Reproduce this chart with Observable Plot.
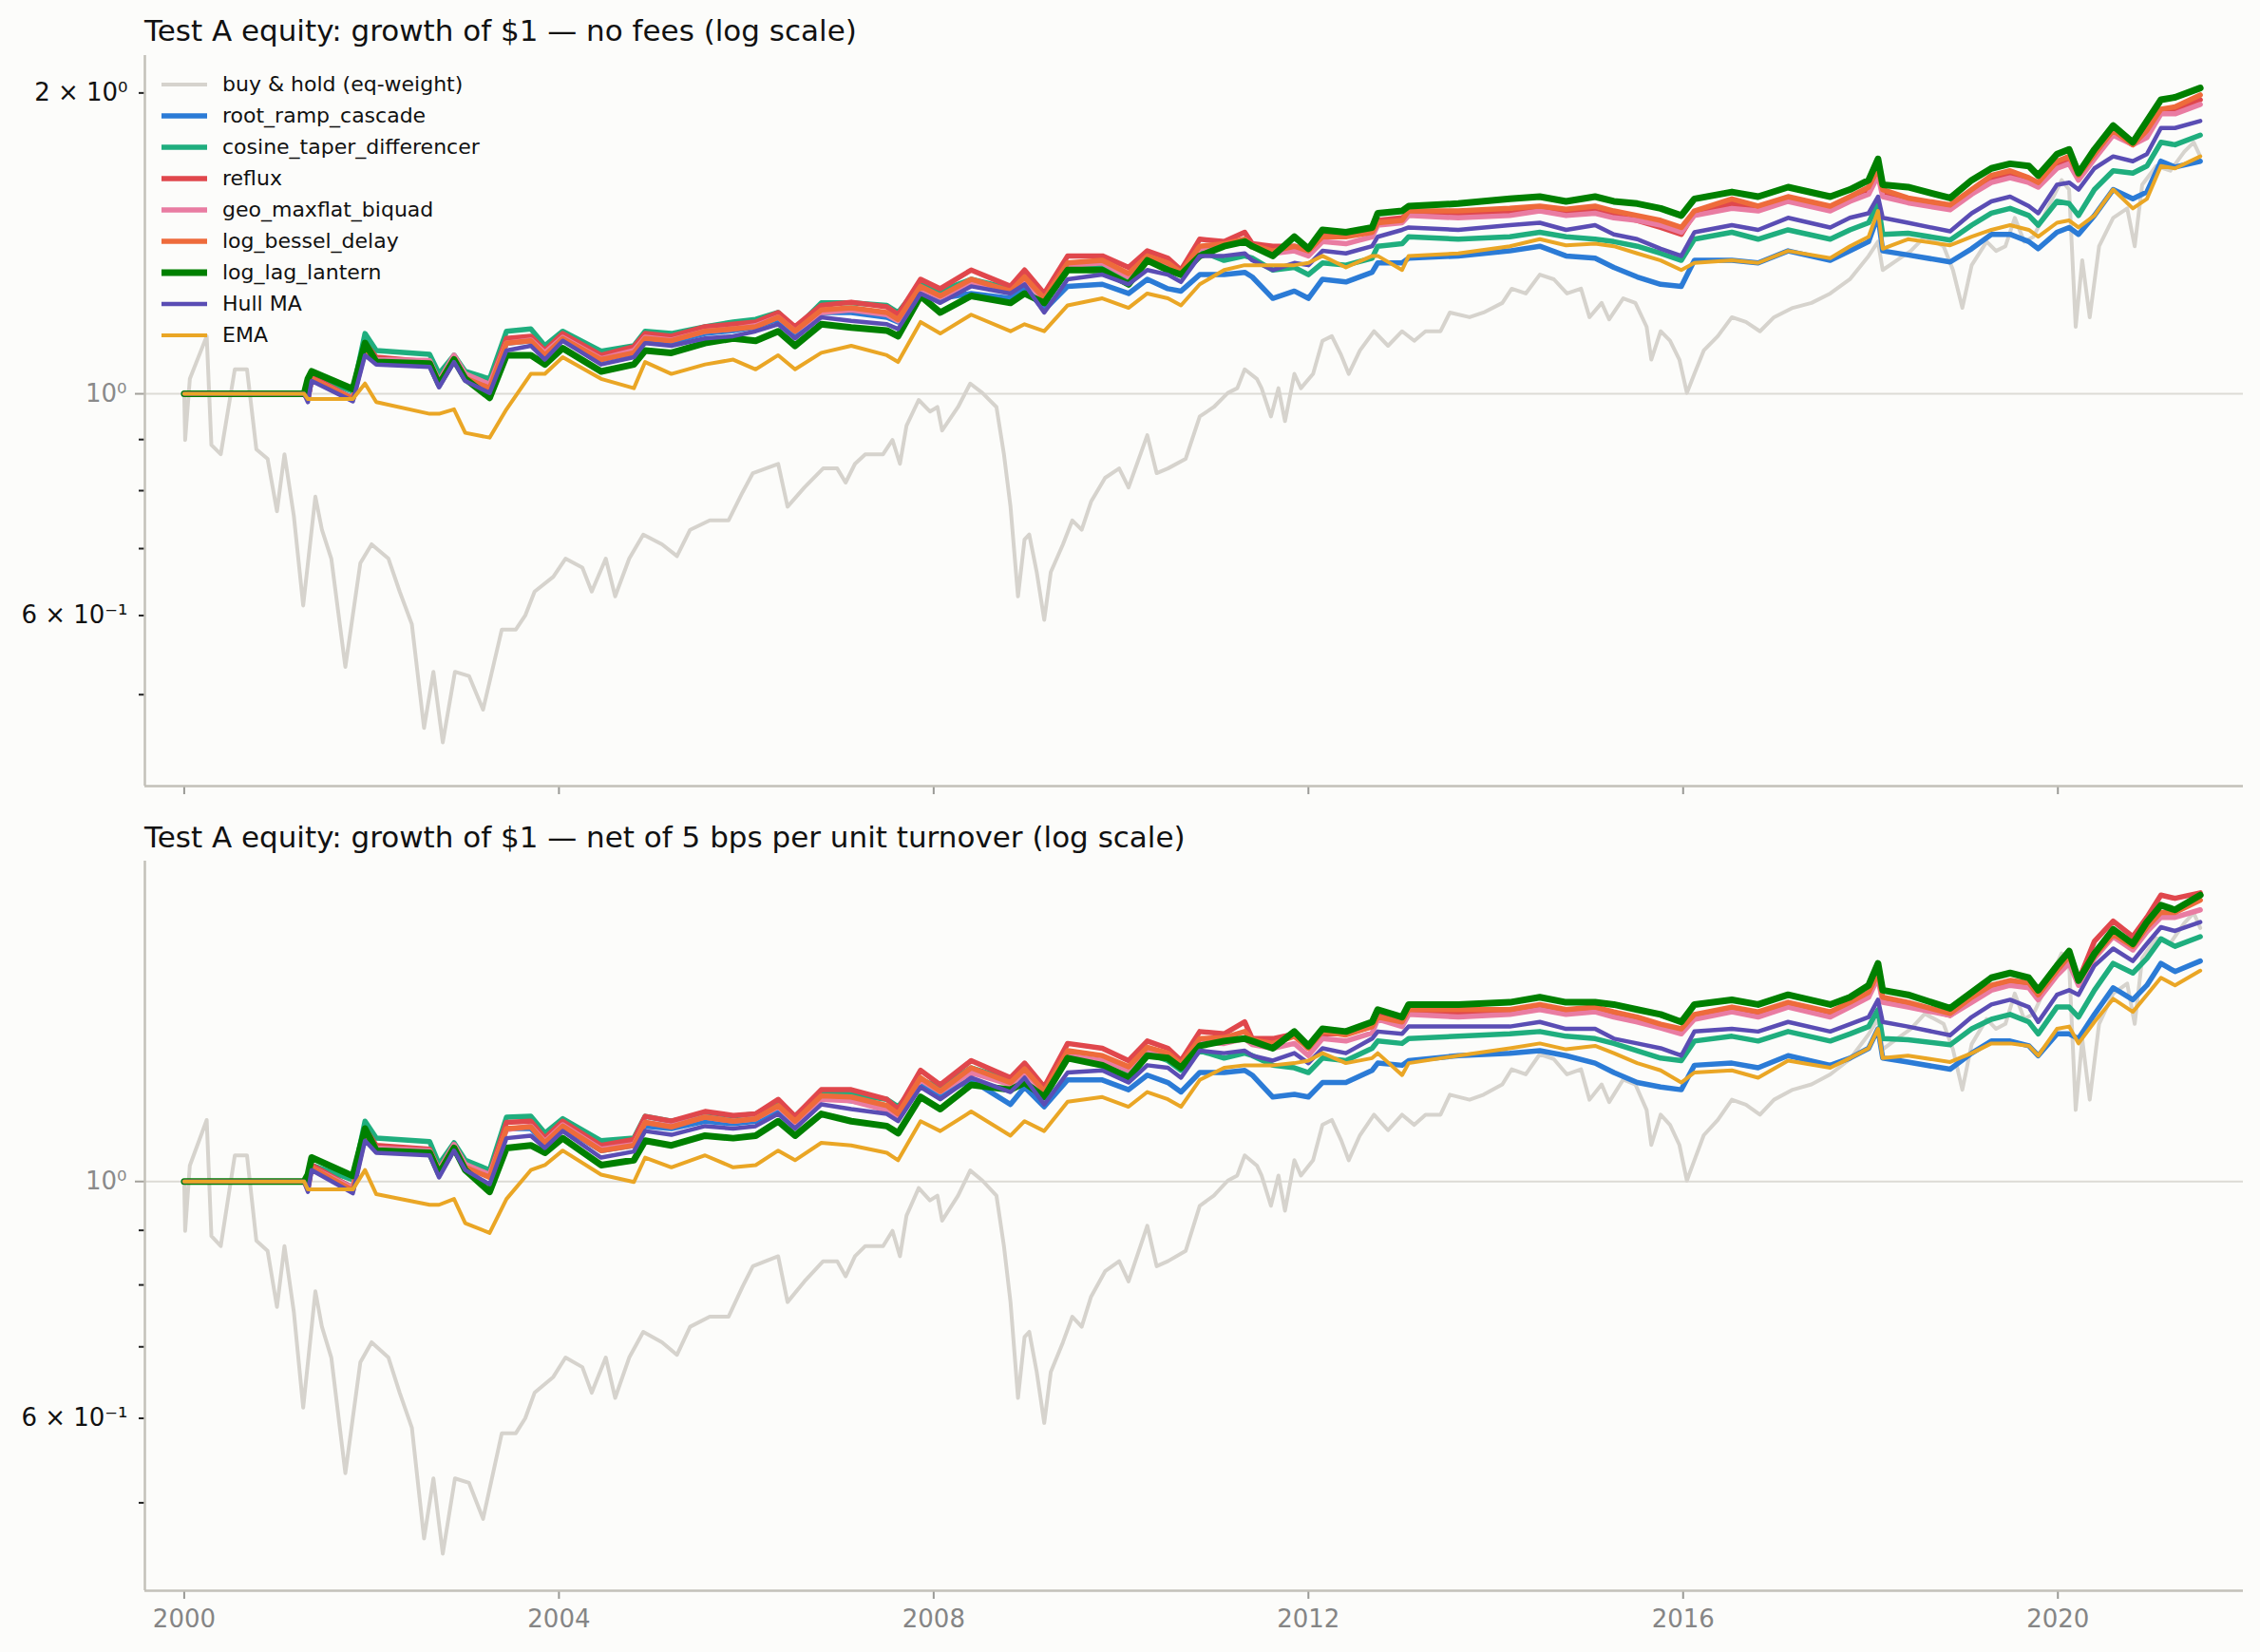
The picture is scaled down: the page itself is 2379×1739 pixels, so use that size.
<!DOCTYPE html>
<html><head><meta charset="utf-8">
<script src="https://cdn.jsdelivr.net/npm/d3@7"></script>
<script src="https://cdn.jsdelivr.net/npm/@observablehq/plot@0.6"></script>
<style>
html,body{margin:0;padding:0;background:#fcfcfa;}
#page{position:relative;width:2379px;height:1739px;background:#fcfcfa;font-family:"DejaVu Sans",sans-serif;overflow:hidden}
.title{position:absolute;left:152px;font-size:31px;line-height:31px;color:#111;white-space:nowrap}
.panel{position:absolute;left:0}
#legend{position:absolute;left:170px;top:72px;font-size:22px;color:#111}
.item{display:flex;align-items:center;height:33px;white-space:nowrap}
.item svg{margin-right:16px}
</style></head><body><div id="page"></div>
<script>
// ---- series meta ----
const seriesNames = ["buy & hold (eq-weight)","root_ramp_cascade","cosine_taper_differencer","reflux","geo_maxflat_biquad","log_bessel_delay","log_lag_lantern","Hull MA","EMA"];
const seriesColors = ["#d6d3cd","#2b7bd6","#1fae7e","#e0474c","#e97ca2","#ee6b3b","#008000","#5a4db4","#eaa625"];
const seriesWidths = [4,5.5,5.5,5.5,5.5,5.5,7,4.5,4];
const xTicks = [2000,2004,2008,2012,2016,2020];

// ---- buy & hold (same in both panels) ----
const bhYears = [2000.00,2000.01,2000.06,2000.24,2000.29,2000.39,2000.54,2000.67,2000.77,2000.89,
2000.99,2001.07,2001.17,2001.27,2001.40,2001.47,2001.57,2001.72,2001.88,2002.00,
2002.18,2002.30,2002.43,2002.56,2002.66,2002.76,2002.89,2003.04,2003.19,2003.39,
2003.54,2003.64,2003.74,2003.94,2004.07,2004.25,2004.35,2004.50,2004.60,2004.75,
2004.90,2005.10,2005.26,2005.40,2005.61,2005.81,2005.96,2006.07,2006.34,2006.44,
2006.62,2006.82,2006.97,2007.06,2007.16,2007.27,2007.46,2007.56,2007.64,2007.71,
2007.84,2007.96,2008.04,2008.09,2008.26,2008.39,2008.52,2008.67,2008.75,2008.82,
2008.90,2008.97,2009.02,2009.10,2009.18,2009.25,2009.38,2009.48,2009.58,2009.68,
2009.83,2009.98,2010.08,2010.28,2010.38,2010.50,2010.69,2010.84,2010.99,2011.14,
2011.24,2011.32,2011.45,2011.50,2011.60,2011.68,2011.75,2011.85,2011.92,2012.05,
2012.15,2012.25,2012.35,2012.43,2012.55,2012.70,2012.85,2013.00,2013.13,2013.25,
2013.41,2013.51,2013.72,2013.87,2014.07,2014.17,2014.32,2014.47,2014.62,2014.76,
2014.91,2015.00,2015.13,2015.21,2015.36,2015.49,2015.61,2015.66,2015.76,2015.86,
2015.96,2016.04,2016.12,2016.22,2016.37,2016.52,2016.67,2016.82,2016.97,2017.17,
2017.37,2017.57,2017.78,2017.98,2018.08,2018.13,2018.28,2018.43,2018.58,2018.78,
2018.88,2018.98,2019.08,2019.24,2019.34,2019.44,2019.54,2019.64,2019.74,2019.89,
2020.04,2020.12,2020.19,2020.26,2020.34,2020.44,2020.59,2020.74,2020.82,2020.90,
2021.05,2021.20,2021.35,2021.45,2021.52];
const bhValues = [1.000,0.899,1.035,1.142,0.889,0.870,1.058,1.058,0.880,0.861,
0.763,0.870,0.755,0.614,0.789,0.731,0.684,0.533,0.677,0.707,
0.684,0.634,0.588,0.463,0.527,0.448,0.527,0.522,0.483,0.581,
0.581,0.600,0.634,0.656,0.684,0.670,0.634,0.684,0.627,0.684,
0.723,0.707,0.688,0.731,0.747,0.747,0.797,0.833,0.851,0.771,
0.806,0.842,0.842,0.815,0.851,0.870,0.870,0.899,0.851,0.929,
0.986,0.960,0.970,0.919,0.970,1.024,1.002,0.970,0.870,0.771,
0.627,0.715,0.723,0.663,0.594,0.663,0.707,0.747,0.731,0.780,
0.824,0.842,0.806,0.909,0.833,0.842,0.861,0.949,0.970,1.002,
1.013,1.058,1.035,1.013,0.949,1.013,0.939,1.047,1.013,1.047,
1.130,1.142,1.093,1.047,1.105,1.155,1.117,1.155,1.130,1.155,
1.155,1.206,1.193,1.206,1.233,1.274,1.260,1.316,1.302,1.260,
1.274,1.193,1.233,1.187,1.246,1.233,1.167,1.082,1.155,1.130,
1.082,1.002,1.047,1.105,1.142,1.193,1.180,1.155,1.193,1.219,
1.233,1.260,1.302,1.374,1.420,1.330,1.360,1.390,1.436,1.405,
1.330,1.219,1.345,1.420,1.390,1.405,1.500,1.420,1.436,1.533,
1.636,1.601,1.167,1.360,1.193,1.405,1.500,1.533,1.405,1.619,
1.690,1.672,1.747,1.785,1.728];

// ---- strategy sample dates ----
const stratYears = [2000.00,2001.28,2001.32,2001.36,2001.80,2001.93,2002.05,2002.62,2002.72,2002.88,
2003.00,2003.26,2003.44,2003.70,2003.85,2004.04,2004.45,2004.80,2004.92,2005.20,
2005.56,2005.86,2006.10,2006.34,2006.52,2006.80,2007.12,2007.50,2007.62,2007.86,
2008.07,2008.40,2008.82,2008.97,2009.18,2009.43,2009.80,2010.08,2010.28,2010.50,
2010.64,2010.84,2011.10,2011.32,2011.40,2011.62,2011.85,2012.00,2012.15,2012.40,
2012.68,2012.74,2013.00,2013.07,2013.60,2014.15,2014.47,2014.75,2015.06,2015.26,
2015.51,2015.76,2015.98,2016.12,2016.52,2016.80,2017.12,2017.57,2017.78,2017.98,
2018.08,2018.13,2018.40,2018.85,2019.08,2019.29,2019.49,2019.69,2019.79,2019.99,
2020.12,2020.22,2020.39,2020.59,2020.80,2020.95,2021.10,2021.25,2021.52];

// ---- panel 1: no fees ----
const topRoot = [1,1,0.989,1.035,0.991,1.105,1.082,1.076,1.026,1.088,
1.041,1.018,1.124,1.130,1.095,1.136,1.082,1.099,1.130,1.127,
1.149,1.157,1.167,1.187,1.149,1.206,1.206,1.193,1.180,1.267,
1.246,1.260,1.246,1.281,1.213,1.281,1.287,1.260,1.302,1.274,
1.267,1.316,1.316,1.323,1.309,1.246,1.267,1.246,1.302,1.294,
1.323,1.352,1.352,1.367,1.374,1.390,1.405,1.374,1.367,1.338,
1.309,1.287,1.281,1.360,1.360,1.352,1.390,1.360,1.390,1.420,
1.508,1.390,1.377,1.355,1.397,1.444,1.444,1.420,1.397,1.451,
1.467,1.444,1.508,1.601,1.567,1.592,1.709,1.686,1.709];
const topCosine = [1,1,1.010,1.041,1.006,1.149,1.105,1.095,1.047,1.093,
1.053,1.035,1.155,1.161,1.117,1.155,1.103,1.117,1.155,1.149,
1.167,1.180,1.187,1.206,1.161,1.233,1.233,1.226,1.206,1.287,
1.267,1.302,1.274,1.302,1.246,1.345,1.345,1.302,1.374,1.338,
1.316,1.390,1.360,1.374,1.367,1.330,1.338,1.316,1.352,1.345,
1.367,1.405,1.413,1.436,1.428,1.436,1.451,1.436,1.428,1.420,
1.405,1.382,1.360,1.428,1.451,1.428,1.459,1.428,1.459,1.483,
1.550,1.444,1.448,1.425,1.475,1.516,1.533,1.508,1.475,1.558,
1.550,1.508,1.601,1.672,1.663,1.690,1.785,1.775,1.815];
const topReflux = [1,1,0.989,1.041,0.989,1.124,1.088,1.076,1.030,1.091,
1.045,1.022,1.136,1.142,1.105,1.149,1.093,1.115,1.149,1.142,
1.167,1.174,1.180,1.206,1.167,1.226,1.235,1.222,1.200,1.302,
1.274,1.330,1.281,1.330,1.260,1.374,1.374,1.338,1.390,1.367,
1.330,1.428,1.420,1.451,1.413,1.405,1.405,1.390,1.444,1.444,
1.459,1.491,1.500,1.516,1.516,1.516,1.533,1.516,1.524,1.508,
1.491,1.467,1.444,1.516,1.550,1.533,1.567,1.533,1.567,1.598,
1.672,1.592,1.567,1.536,1.592,1.640,1.658,1.636,1.619,1.694,
1.713,1.654,1.728,1.825,1.775,1.821,1.917,1.923,1.969];
const topGeo = [1,1,0.989,1.035,0.989,1.111,1.082,1.080,1.030,1.093,
1.047,1.022,1.124,1.132,1.099,1.139,1.084,1.105,1.139,1.132,
1.155,1.161,1.170,1.193,1.155,1.206,1.213,1.200,1.183,1.274,
1.249,1.287,1.263,1.302,1.240,1.345,1.352,1.309,1.367,1.345,
1.319,1.397,1.405,1.420,1.402,1.382,1.390,1.374,1.420,1.413,
1.436,1.475,1.483,1.508,1.500,1.508,1.524,1.508,1.516,1.500,
1.491,1.475,1.451,1.508,1.533,1.524,1.558,1.524,1.558,1.584,
1.654,1.575,1.553,1.528,1.584,1.627,1.645,1.627,1.610,1.681,
1.699,1.636,1.718,1.815,1.775,1.805,1.906,1.906,1.948];
const topBessel = [1,1,0.988,1.035,0.988,1.105,1.076,1.070,1.024,1.084,
1.037,1.013,1.124,1.130,1.093,1.136,1.082,1.099,1.136,1.130,
1.155,1.161,1.167,1.193,1.155,1.213,1.219,1.206,1.187,1.281,
1.253,1.302,1.267,1.309,1.246,1.352,1.360,1.319,1.374,1.352,
1.323,1.405,1.413,1.428,1.408,1.390,1.405,1.390,1.436,1.436,
1.451,1.483,1.491,1.524,1.524,1.533,1.541,1.530,1.541,1.524,
1.508,1.491,1.467,1.524,1.567,1.541,1.575,1.541,1.575,1.610,
1.681,1.601,1.570,1.545,1.601,1.654,1.672,1.645,1.627,1.709,
1.728,1.654,1.737,1.835,1.775,1.835,1.927,1.937,1.991];
const topLantern = [1,1,1.035,1.053,1.011,1.124,1.076,1.072,1.022,1.082,
1.035,0.991,1.093,1.093,1.070,1.111,1.053,1.070,1.105,1.099,
1.124,1.136,1.130,1.155,1.117,1.174,1.165,1.157,1.142,1.253,
1.206,1.253,1.233,1.260,1.233,1.330,1.330,1.287,1.360,1.330,
1.316,1.374,1.405,1.420,1.405,1.374,1.436,1.397,1.459,1.451,
1.467,1.516,1.524,1.541,1.550,1.567,1.575,1.558,1.575,1.558,
1.550,1.533,1.508,1.567,1.592,1.575,1.610,1.575,1.601,1.636,
1.718,1.619,1.610,1.570,1.636,1.681,1.699,1.690,1.654,1.737,
1.756,1.663,1.756,1.855,1.785,1.875,1.969,1.980,2.023];
const topHull = [1,1,0.981,1.030,0.983,1.093,1.070,1.064,1.015,1.076,
1.030,1.002,1.105,1.117,1.082,1.130,1.070,1.088,1.124,1.117,
1.136,1.142,1.155,1.174,1.136,1.193,1.183,1.174,1.161,1.260,
1.233,1.281,1.260,1.287,1.206,1.302,1.316,1.287,1.330,1.316,
1.294,1.374,1.374,1.382,1.360,1.330,1.352,1.345,1.390,1.382,
1.405,1.436,1.459,1.467,1.459,1.475,1.483,1.459,1.475,1.444,
1.428,1.397,1.374,1.451,1.475,1.459,1.500,1.467,1.500,1.516,
1.575,1.500,1.483,1.454,1.516,1.558,1.575,1.541,1.516,1.619,
1.627,1.601,1.681,1.728,1.709,1.737,1.845,1.845,1.875];
const topEma = [1,1,0.988,0.988,0.988,1.024,0.981,0.955,0.955,0.965,
0.914,0.904,0.965,1.047,1.047,1.088,1.035,1.013,1.076,1.047,
1.070,1.082,1.058,1.093,1.058,1.099,1.117,1.093,1.076,1.180,
1.149,1.200,1.155,1.174,1.155,1.226,1.246,1.219,1.260,1.246,
1.226,1.287,1.330,1.345,1.345,1.345,1.345,1.352,1.374,1.338,
1.374,1.374,1.330,1.374,1.382,1.405,1.428,1.408,1.413,1.405,
1.382,1.360,1.330,1.352,1.360,1.352,1.390,1.367,1.405,1.436,
1.524,1.397,1.428,1.408,1.436,1.459,1.475,1.459,1.436,1.483,
1.491,1.467,1.508,1.601,1.533,1.567,1.690,1.681,1.728];

// ---- panel 2: net of 5 bps ----
const botRoot = [1,1,0.989,1.031,0.987,1.104,1.075,1.069,1.022,1.078,
1.034,1.013,1.121,1.121,1.087,1.125,1.069,1.081,1.127,1.121,
1.139,1.133,1.139,1.169,1.133,1.200,1.190,1.175,1.157,1.238,
1.207,1.245,1.181,1.226,1.175,1.245,1.245,1.219,1.258,1.238,
1.213,1.265,1.265,1.271,1.258,1.200,1.207,1.200,1.238,1.238,
1.271,1.291,1.285,1.298,1.312,1.319,1.326,1.312,1.291,1.265,
1.238,1.226,1.219,1.285,1.291,1.278,1.312,1.285,1.305,1.333,
1.390,1.305,1.294,1.274,1.319,1.354,1.354,1.340,1.312,1.375,
1.375,1.361,1.434,1.519,1.480,1.527,1.601,1.573,1.609];
const botCosine = [1,1,1.009,1.036,1.004,1.139,1.098,1.090,1.038,1.087,
1.047,1.025,1.149,1.151,1.110,1.145,1.092,1.098,1.151,1.139,
1.157,1.151,1.157,1.188,1.151,1.213,1.207,1.194,1.175,1.245,
1.226,1.278,1.245,1.271,1.213,1.305,1.291,1.258,1.319,1.298,
1.271,1.326,1.305,1.319,1.312,1.285,1.278,1.265,1.305,1.298,
1.333,1.354,1.347,1.361,1.368,1.375,1.382,1.368,1.361,1.347,
1.326,1.305,1.298,1.354,1.368,1.354,1.382,1.354,1.375,1.397,
1.449,1.361,1.358,1.343,1.390,1.419,1.434,1.411,1.375,1.457,
1.457,1.426,1.511,1.601,1.568,1.618,1.688,1.661,1.696];
const botReflux = [1,1,0.989,1.036,0.986,1.121,1.081,1.072,1.025,1.083,
1.036,1.015,1.136,1.139,1.098,1.139,1.081,1.095,1.151,1.139,
1.163,1.153,1.157,1.194,1.151,1.219,1.219,1.194,1.169,1.271,
1.232,1.298,1.251,1.291,1.226,1.347,1.333,1.298,1.354,1.333,
1.298,1.382,1.375,1.411,1.361,1.361,1.375,1.333,1.375,1.375,
1.397,1.434,1.404,1.442,1.437,1.442,1.457,1.442,1.446,1.431,
1.416,1.397,1.378,1.426,1.449,1.434,1.465,1.434,1.465,1.496,
1.560,1.480,1.468,1.431,1.480,1.519,1.535,1.527,1.488,1.568,
1.618,1.543,1.679,1.754,1.696,1.768,1.855,1.842,1.864];
const botGeo = [1,1,0.989,1.031,0.986,1.110,1.075,1.069,1.025,1.083,
1.038,1.015,1.118,1.127,1.090,1.130,1.072,1.083,1.136,1.127,
1.149,1.139,1.145,1.175,1.136,1.194,1.190,1.166,1.151,1.245,
1.213,1.265,1.232,1.267,1.210,1.312,1.298,1.271,1.326,1.312,
1.281,1.350,1.347,1.361,1.344,1.333,1.347,1.312,1.361,1.354,
1.378,1.419,1.397,1.434,1.426,1.434,1.449,1.434,1.442,1.426,
1.411,1.393,1.375,1.419,1.442,1.426,1.457,1.426,1.457,1.488,
1.552,1.472,1.457,1.431,1.472,1.511,1.527,1.519,1.480,1.560,
1.601,1.527,1.618,1.696,1.648,1.714,1.768,1.768,1.797];
const botBessel = [1,1,0.983,1.031,0.981,1.104,1.069,1.064,1.020,1.075,
1.031,1.009,1.121,1.125,1.087,1.127,1.069,1.081,1.136,1.125,
1.149,1.139,1.145,1.178,1.139,1.203,1.200,1.178,1.157,1.251,
1.215,1.278,1.238,1.275,1.215,1.326,1.312,1.281,1.336,1.319,
1.289,1.361,1.364,1.382,1.358,1.347,1.368,1.333,1.382,1.372,
1.397,1.426,1.411,1.449,1.449,1.449,1.465,1.449,1.457,1.442,
1.426,1.404,1.390,1.434,1.457,1.442,1.472,1.442,1.472,1.504,
1.568,1.488,1.472,1.437,1.488,1.527,1.543,1.535,1.496,1.576,
1.626,1.543,1.626,1.705,1.661,1.731,1.787,1.787,1.835];
const botLantern = [1,1,1.015,1.053,1.012,1.121,1.069,1.064,1.017,1.075,
1.025,0.978,1.075,1.081,1.064,1.098,1.036,1.047,1.092,1.081,
1.104,1.098,1.104,1.139,1.104,1.157,1.139,1.127,1.110,1.200,
1.169,1.232,1.219,1.238,1.200,1.305,1.285,1.251,1.312,1.305,
1.278,1.340,1.354,1.361,1.354,1.333,1.382,1.340,1.390,1.382,
1.411,1.449,1.426,1.465,1.465,1.472,1.488,1.472,1.472,1.465,
1.449,1.434,1.411,1.465,1.480,1.465,1.496,1.465,1.488,1.527,
1.601,1.511,1.496,1.453,1.504,1.552,1.568,1.552,1.511,1.593,
1.644,1.543,1.635,1.723,1.670,1.750,1.815,1.797,1.855];
const botHull = [1,1,0.978,1.025,0.975,1.092,1.064,1.058,1.009,1.069,
1.025,0.994,1.098,1.104,1.075,1.115,1.053,1.067,1.115,1.106,
1.127,1.121,1.127,1.157,1.121,1.181,1.169,1.157,1.139,1.226,
1.194,1.251,1.213,1.251,1.181,1.265,1.271,1.238,1.285,1.278,
1.251,1.326,1.319,1.326,1.312,1.298,1.319,1.291,1.333,1.319,
1.361,1.382,1.375,1.397,1.397,1.397,1.411,1.390,1.390,1.361,
1.347,1.333,1.312,1.382,1.390,1.382,1.411,1.382,1.404,1.426,
1.480,1.411,1.397,1.371,1.426,1.465,1.480,1.457,1.411,1.496,
1.511,1.496,1.593,1.653,1.609,1.670,1.731,1.717,1.750];
const botEma = [1,1,0.983,0.983,0.983,1.025,0.973,0.951,0.951,0.963,
0.914,0.895,0.963,1.025,1.036,1.069,1.015,0.999,1.053,1.031,
1.058,1.031,1.036,1.069,1.047,1.087,1.081,1.064,1.047,1.139,
1.115,1.163,1.104,1.139,1.115,1.188,1.200,1.175,1.213,1.194,
1.175,1.245,1.278,1.285,1.285,1.285,1.291,1.298,1.319,1.291,
1.305,1.319,1.258,1.291,1.312,1.333,1.347,1.330,1.340,1.319,
1.291,1.271,1.238,1.265,1.271,1.251,1.298,1.278,1.305,1.333,
1.390,1.305,1.312,1.294,1.319,1.347,1.347,1.340,1.312,1.390,
1.397,1.347,1.411,1.483,1.442,1.496,1.552,1.527,1.576];

const topSeries = [topRoot, topCosine, topReflux, topGeo, topBessel, topLantern, topHull, topEma];
const botSeries = [botRoot, botCosine, botReflux, botGeo, botBessel, botLantern, botHull, botEma];

const xDomain = [1999.58, 2021.98];

function panel({series, yDomain, height, marginTop, marginBottom, showXLabels, yLabelTicks}) {
  const spine = "#c3c1b9";
  const marks = [
    Plot.ruleY([1], {stroke: "#dddbd5", strokeWidth: 2}),
    Plot.line(d3.range(bhYears.length), {x: i => bhYears[i], y: i => bhValues[i], stroke: seriesColors[0], strokeWidth: seriesWidths[0], strokeLinejoin: "round"})
  ];
  series.forEach((arr, k) => {
    marks.push(Plot.line(d3.range(stratYears.length), {x: i => stratYears[i], y: i => arr[i], stroke: seriesColors[k + 1], strokeWidth: seriesWidths[k + 1], strokeLinejoin: "round"}));
  });
  marks.push(
    Plot.axisY({ticks: [1], tickSize: 10, tickPadding: 9, stroke: "#a3a19b", strokeWidth: 2, fill: "#8a8a8a", fontSize: 26, tickFormat: () => "10⁰", label: null}),
    Plot.axisY({ticks: yLabelTicks, tickSize: 6, tickPadding: 12, stroke: "#222", strokeWidth: 2, fill: "#111", fontSize: 26, tickFormat: d => d === 2 ? "2 × 10⁰" : "6 × 10⁻¹", label: null}),
    Plot.axisY({ticks: [0.5, 0.7, 0.8, 0.9], tickSize: 6, stroke: "#222", strokeWidth: 2, tickFormat: () => "", label: null}),
    Plot.axisX({ticks: xTicks, tickSize: 9, tickPadding: 11, stroke: "#9a9a96", strokeWidth: 2, fill: "#858585", fontSize: 26, tickFormat: showXLabels ? (d => String(d)) : (() => ""), label: null}),
    Plot.ruleX([xDomain[0]], {stroke: spine, strokeWidth: 2.5}),
    Plot.ruleY([yDomain[0]], {stroke: spine, strokeWidth: 2.5})
  );
  return Plot.plot({
    width: 2379, height, marginTop, marginBottom, marginLeft: 152, marginRight: 18,
    style: {fontFamily: "DejaVu Sans", background: "transparent", overflow: "visible"},
    x: {domain: xDomain, label: null},
    y: {type: "log", domain: yDomain, label: null},
    marks
  });
}

const page = document.getElementById("page");

const t1 = document.createElement("div");
t1.className = "title"; t1.style.top = "17px";
t1.textContent = "Test A equity: growth of $1 — no fees (log scale)";
page.appendChild(t1);

const p1 = panel({series: topSeries, yDomain: [0.405, 2.18], height: 870, marginTop: 58, marginBottom: 43, showXLabels: false, yLabelTicks: [2, 0.6]});
p1.classList.add("panel"); p1.style.top = "0px";
page.appendChild(p1);

const t2 = document.createElement("div");
t2.className = "title"; t2.style.top = "866px";
t2.textContent = "Test A equity: growth of $1 — net of 5 bps per unit turnover (log scale)";
page.appendChild(t2);

const p2 = panel({series: botSeries, yDomain: [0.4136, 1.996], height: 869, marginTop: 36, marginBottom: 65, showXLabels: true, yLabelTicks: [0.6]});
p2.classList.add("panel"); p2.style.top = "870px";
page.appendChild(p2);

// legend
const legend = document.createElement("div");
legend.id = "legend";
seriesNames.forEach((name, k) => {
  const row = document.createElement("div");
  row.className = "item";
  row.innerHTML = `<svg width="48" height="12"><line x1="0" x2="48" y1="6" y2="6" stroke="${seriesColors[k]}" stroke-width="${seriesWidths[k]}"/></svg><span>${name.replace(/&/g, "&amp;")}</span>`;
  legend.appendChild(row);
});
page.appendChild(legend);
</script>
</body></html>
